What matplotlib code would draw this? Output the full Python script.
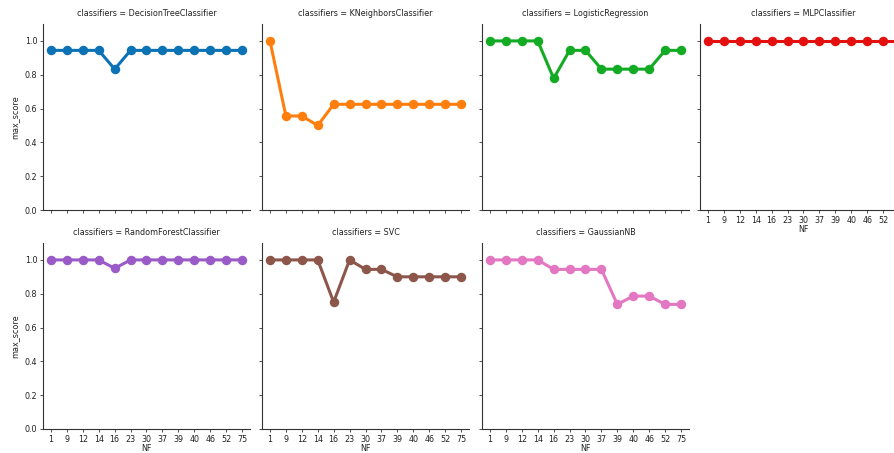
import matplotlib
matplotlib.use("Agg")
import matplotlib.pyplot as plt

nf = ["1", "9", "12", "14", "16", "23", "30", "37", "39", "40", "46", "52", "75"]
classifiers = ["DecisionTreeClassifier", "KNeighborsClassifier", "LogisticRegression",
               "MLPClassifier", "RandomForestClassifier", "SVC", "GaussianNB"]
dt = [0.944, 0.944, 0.944, 0.944, 0.833, 0.944, 0.944, 0.944, 0.944, 0.944, 0.944, 0.944, 0.944]
knn = [1.0, 0.556, 0.556, 0.5, 0.625, 0.625, 0.625, 0.625, 0.625, 0.625, 0.625, 0.625, 0.625]
lr = [1.0, 1.0, 1.0, 1.0, 0.778, 0.944, 0.944, 0.833, 0.833, 0.833, 0.833, 0.944, 0.944]
mlp = [1.0] * 13
rf = [1.0, 1.0, 1.0, 1.0, 0.95, 1.0, 1.0, 1.0, 1.0, 1.0, 1.0, 1.0, 1.0]
svc = [1.0, 1.0, 1.0, 1.0, 0.75, 1.0, 0.944, 0.944, 0.9, 0.9, 0.9, 0.9, 0.9]
gnb = [1.0, 1.0, 1.0, 1.0, 0.944, 0.944, 0.944, 0.944, 0.737, 0.786, 0.786, 0.737, 0.737]
series = [dt, knn, lr, mlp, rf, svc, gnb]
colors = ["#0b72b5", "#ff7f0e", "#14ab24", "#e4100f", "#9a5bc8", "#8c564b", "#e377c2"]

W, H = 895, 453
fig = plt.figure(figsize=(W / 100, H / 100), dpi=100)
plt.rcParams["font.family"] = "DejaVu Sans"

lefts = [43, 262, 482, 700]
aw = 207
rows = [(24, 210), (243, 429)]  # top, bottom in px
fs = 5.8
spine_c = "#333333"

for i, (name, vals, col) in enumerate(zip(classifiers, series, colors)):
    r, c = divmod(i, 4)
    top, bot = rows[r]
    ax = fig.add_axes([lefts[c] / W, (H - bot) / H, aw / W, (bot - top) / H])
    ax.plot(nf, vals, color=col, lw=2.2, marker="o", ms=5.8, mec=col, mfc=col, zorder=3)
    ax.set_xlim(-0.5, len(nf) - 0.5)
    ax.set_ylim(0, 1.1)
    ax.set_yticks([0.0, 0.2, 0.4, 0.6, 0.8, 1.0])
    ax.set_title(f"classifiers = {name}", fontsize=fs, color="#222222", pad=6)
    for s in ["top", "right"]:
        ax.spines[s].set_visible(False)
    for s in ["left", "bottom"]:
        ax.spines[s].set_color(spine_c)
        ax.spines[s].set_linewidth(0.8)
    ax.tick_params(axis="both", length=2.5, width=0.6, color=spine_c,
                   labelsize=fs, labelcolor="#222222", pad=1.5)
    show_x = (r == 1) or (c == 3)
    if show_x:
        ax.set_xlabel("NF", fontsize=fs, color="#222222", labelpad=0)
    else:
        ax.tick_params(axis="x", labelbottom=False)
    if c == 0:
        ax.set_ylabel("max_score", fontsize=fs, color="#222222", labelpad=4)
        ax.set_yticklabels(["0.0", "0.2", "0.4", "0.6", "0.8", "1.0"])
    else:
        ax.tick_params(axis="y", labelleft=False)

fig.savefig("out.png", dpi=100, facecolor="white")
